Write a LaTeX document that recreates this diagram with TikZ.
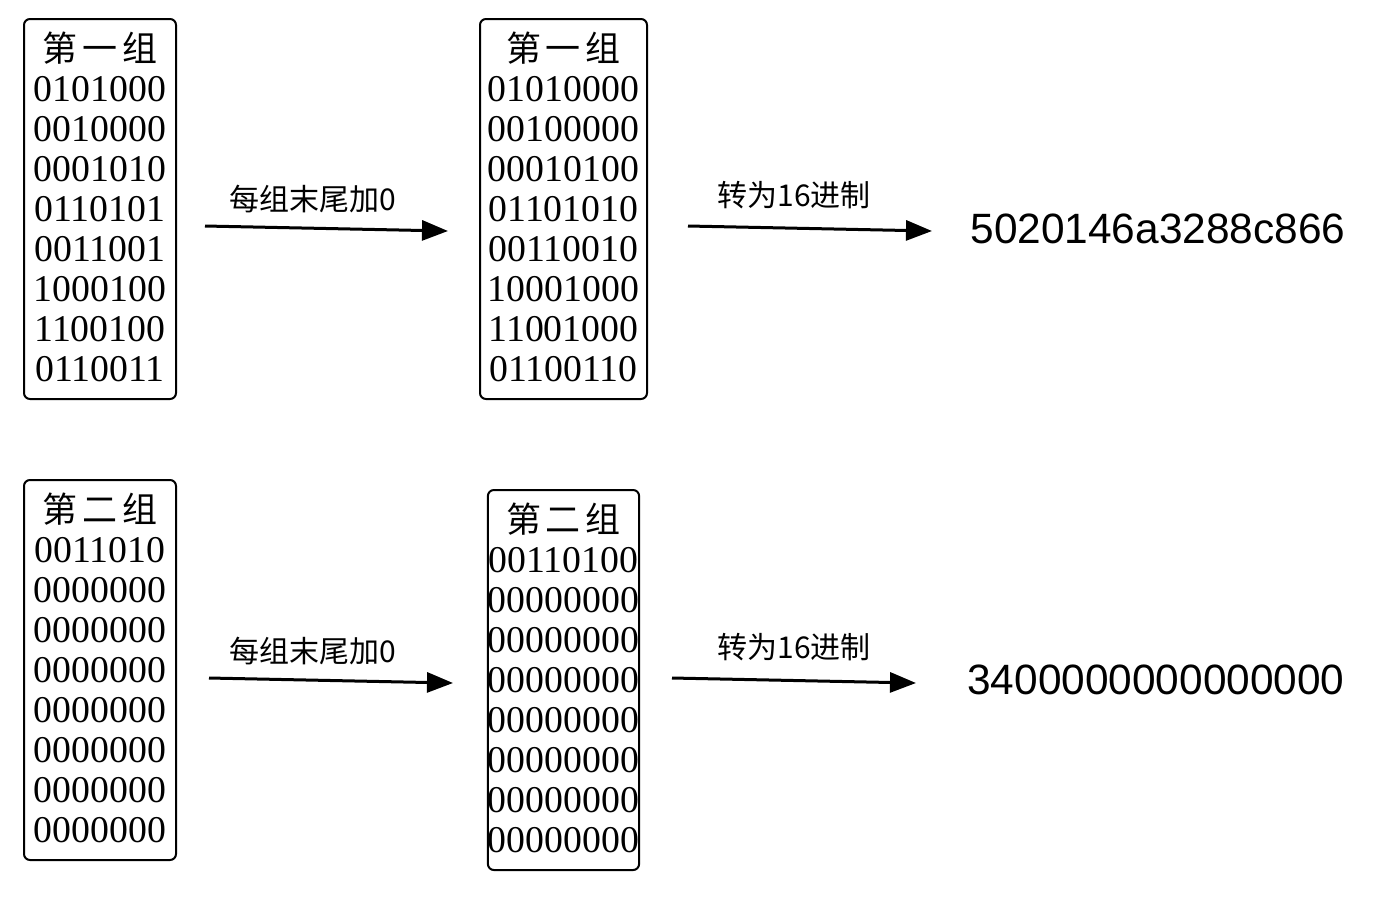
\documentclass[tikz,border=0pt]{standalone}
\usepackage{fontspec}
\setmainfont{Liberation Serif}
\newfontfamily\cjk{Noto Sans CJK SC}
\newfontfamily\latinsans{Liberation Sans}
\usetikzlibrary{arrows.meta}
\newcommand{\grouptitle}[3]{{\cjk\fontsize{17.5}{20}\selectfont\makebox[20pt]{#1}\makebox[20pt]{#2}\makebox[20pt]{#3}}}
\newcommand{\lastrow}[1]{#1\rule[-2pt]{0pt}{2pt}}
\tikzset{
  bitbox/.style={draw, line width=1pt, rounded corners=3pt, inner sep=0pt,
    minimum height=190pt, align=center,
    font=\fontsize{18.9}{20}\selectfont},
  steplabel/.style={font=\cjk\fontsize{15}{18}\selectfont, inner sep=0pt},
  hexout/.style={font=\latinsans\fontsize{21.2}{24}\selectfont, inner sep=0pt},
  flow/.style={line width=1.5pt, -{Triangle[length=13pt,width=10pt]}}
}
\begin{document}
\begin{tikzpicture}[x=0.5pt,y=-0.5pt]
\useasboundingbox (0,0) rectangle (1378,902);

% first group
\node[bitbox, minimum width=76pt] (g1a) at (100,209)
  {\grouptitle{第}{一}{组}\\0101000\\0010000\\0001010\\0110101\\0011001\\1000100\\1100100\\\lastrow{0110011}};
\node[bitbox, minimum width=83.5pt] (g1b) at (563.5,209)
  {\grouptitle{第}{一}{组}\\01010000\\00100000\\00010100\\01101010\\00110010\\10001000\\11001000\\\lastrow{01100110}};
\node[hexout] (h1) at (1158,229) {5020146a3288c866};

\coordinate (a1s) at (205,226);
\coordinate (a1e) at (448,231);
\coordinate (b1s) at (688,226);
\coordinate (b1e) at (932,231);
\draw[flow] (a1s) -- (a1e);
\draw[flow] (b1s) -- (b1e);
\node[steplabel] (l1a) at (313,199) {每组末尾加0};
\node[steplabel] (l1b) at (794,195) {转为16进制};

% second group
\node[bitbox, minimum width=76pt] (g2a) at (100,670)
  {\grouptitle{第}{二}{组}\\0011010\\0000000\\0000000\\0000000\\0000000\\0000000\\0000000\\\lastrow{0000000}};
\node[bitbox, minimum width=75.5pt] (g2b) at (563.5,680)
  {\grouptitle{第}{二}{组}\\00110100\\00000000\\00000000\\00000000\\00000000\\00000000\\00000000\\\lastrow{00000000}};
\node[hexout] (h2) at (1156,680) {3400000000000000};

\coordinate (a2s) at (209,678);
\coordinate (a2e) at (453,683);
\coordinate (b2s) at (672,678);
\coordinate (b2e) at (916,683);
\draw[flow] (a2s) -- (a2e);
\draw[flow] (b2s) -- (b2e);
\node[steplabel] (l2a) at (313,651) {每组末尾加0};
\node[steplabel] (l2b) at (794,647) {转为16进制};
\end{tikzpicture}
\end{document}
